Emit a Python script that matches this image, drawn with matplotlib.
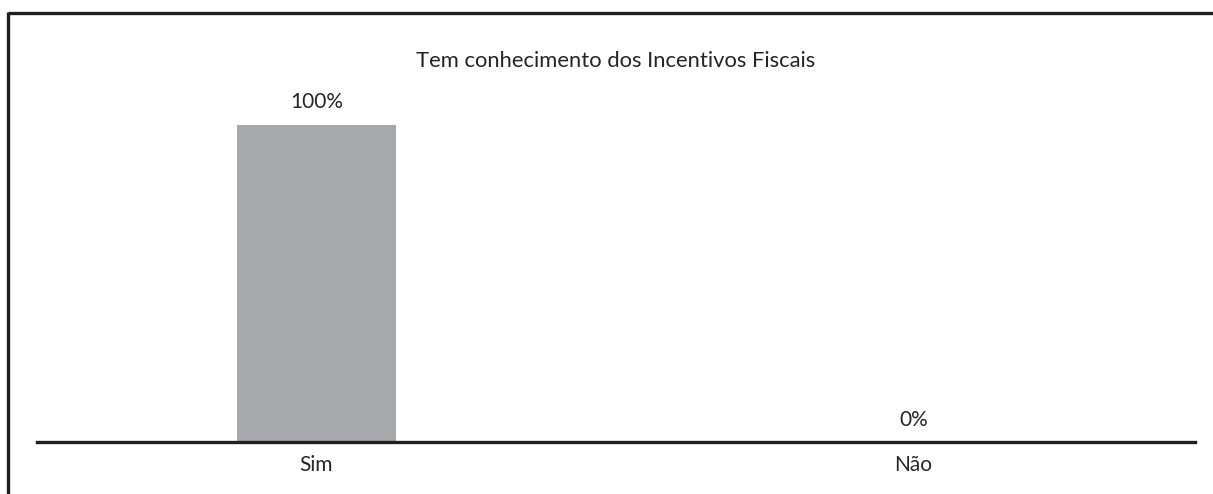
import matplotlib
matplotlib.use("Agg")
import matplotlib.pyplot as plt
from matplotlib.lines import Line2D

categories = ["Sim", "Não"]
values = [100, 0]
labels = ["100%", "0%"]
title = "Tem conhecimento dos Incentivos Fiscais"

W, H = 1213, 494
fig = plt.figure(figsize=(W / 100, H / 100), dpi=100)
plt.rcParams['font.family'] = ['Lato', 'DejaVu Sans']

def fx(px):
    return px / W

def fy(py):
    return 1 - py / H

ax_left, ax_right, ax_top, ax_bottom = 37, 1195, 125, 442
ax = fig.add_axes([fx(ax_left), fy(ax_bottom), fx(ax_right - ax_left), (ax_bottom - ax_top) / H])

xs = list(range(len(categories)))
ax.bar(xs, values, width=0.266, color="#a7a8ab", zorder=2)
ax.set_xlim(-0.468, 1.472)
ax.set_ylim(0, 100)

for x, v, lab in zip(xs, values, labels):
    ax.annotate(lab, (x, v), xytext=(0, 9), textcoords="offset points",
                ha="center", va="bottom", fontsize=15, color="#262626",
                annotation_clip=False)

for s in ["top", "right", "left"]:
    ax.spines[s].set_visible(False)
ax.spines["bottom"].set_linewidth(2.4)
ax.spines["bottom"].set_color("#231f20")
ax.set_yticks([])
ax.set_xticks(xs)
ax.set_xticklabels(categories, fontsize=15, color="#262626")
ax.tick_params(axis="x", length=0, pad=9)

fig.text(fx(616), fy(61), title, ha="center", va="center", fontsize=15.8, color="#262626")

# partial frame (top and left edges)
fig.add_artist(Line2D([fx(8), 1.0], [fy(13.5), fy(13.5)], color="#231f20", lw=2.4, solid_capstyle="butt"))
fig.add_artist(Line2D([fx(8), fx(8)], [fy(12.3), 0.0], color="#231f20", lw=2.4, solid_capstyle="butt"))

fig.savefig("out.png", dpi=100)
